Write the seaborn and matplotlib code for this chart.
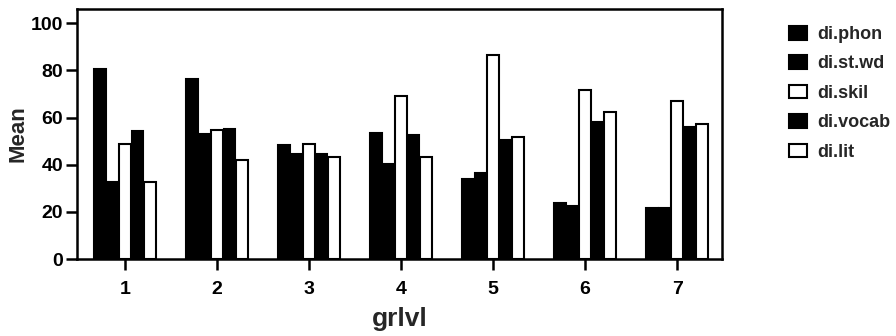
import matplotlib
matplotlib.use("Agg")
import matplotlib.pyplot as plt
import seaborn as sns
import pandas as pd
from matplotlib.patches import Patch

grades = ["1", "2", "3", "4", "5", "6", "7"]
series = ["di.phon", "di.st.wd", "di.skil", "di.vocab", "di.lit"]
di_phon = [80.5, 76.5, 48.2, 53.5, 33.8, 23.6, 21.5]
di_stwd = [32.8, 53.2, 44.4, 40.5, 36.6, 22.6, 21.5]
di_skil = [48.7, 54.7, 48.7, 69.2, 86.7, 71.6, 67.0]
di_vocab = [54.1, 55.0, 44.4, 52.8, 50.4, 58.0, 55.8]
di_lit = [32.6, 42.0, 43.4, 43.4, 51.8, 62.4, 57.2]
colors = ["black", "black", "white", "black", "white"]

values = [di_phon, di_stwd, di_skil, di_vocab, di_lit]
rows = []
for s, vals in zip(series, values):
    for g, v in zip(grades, vals):
        rows.append({"grlvl": g, "series": s, "Mean": v})
df = pd.DataFrame(rows)

sns.set_theme(style="white")
plt.rcParams["font.family"] = ["Liberation Sans", "DejaVu Sans"]
plt.rcParams["font.weight"] = "bold"

fig = plt.figure(figsize=(8.96, 3.36), dpi=100)
ax = fig.add_axes([0.086, 0.229, 0.72, 0.744])

palette = dict(zip(series, colors))
sns.barplot(data=df, x="grlvl", y="Mean", hue="series", hue_order=series,
            order=grades, palette=palette, edgecolor="black", linewidth=1.5,
            width=0.68, gap=0.08, saturation=1, ax=ax, legend=False)

ax.set_xlim(-0.52, 6.49)
ax.set_ylim(0, 106)
ax.set_yticks([0, 20, 40, 60, 80, 100])
for sp in ax.spines.values():
    sp.set_visible(True)
    sp.set_color("black")
    sp.set_linewidth(1.8)
ax.tick_params(axis="both", direction="out", length=8, width=1.8,
               labelsize=14, colors="black", bottom=True, left=True)
ax.tick_params(axis="x", pad=8)
ax.tick_params(axis="y", pad=2)
for lbl in ax.get_xticklabels() + ax.get_yticklabels():
    lbl.set_fontweight("bold")
ax.set_xlabel("grlvl", fontsize=19, fontweight="bold", labelpad=6)
ax.set_ylabel("Mean", fontsize=16, fontweight="bold", labelpad=2)
ax.grid(False)

handles = [Patch(facecolor=c, edgecolor="black", linewidth=1.5) for c in colors]
leg = fig.legend(handles, series, loc="upper left",
                 bbox_to_anchor=(0.872, 0.945), frameon=False,
                 prop={"size": 13, "weight": "bold"}, handlelength=1.05,
                 handleheight=0.8, handletextpad=0.55, labelspacing=0.68,
                 borderaxespad=0)

fig.savefig("out.png", dpi=100)
